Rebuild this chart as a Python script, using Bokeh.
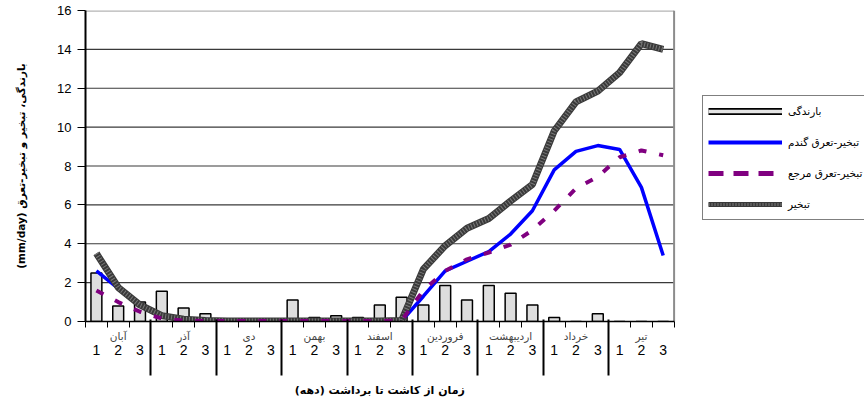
from bokeh.plotting import figure
from bokeh.models import (Range1d, FixedTicker, Legend, LegendItem, LinearAxis)
from bokeh.embed import file_html
from bokeh.resources import INLINE

# ---------------- data ----------------
months = ["آبان", "آذر", "دی", "بهمن", "اسفند", "فروردین", "اردیبهشت", "خرداد", "تیر"]
decades = ["1", "2", "3"]

rain = [2.5, 0.8, 1.0,
        1.55, 0.7, 0.4,
        0.05, 0.0, 0.1,
        1.1, 0.2, 0.3,
        0.2, 0.85, 1.25,
        0.85, 1.85, 1.1,
        1.85, 1.45, 0.85,
        0.2, 0.0, 0.4,
        0.0, 0.0, 0.0]

evap = [3.5, 1.75, 0.85,
        0.3, 0.12, 0.05,
        0.03, 0.02, 0.03,
        0.03, 0.03, 0.03,
        0.03, 0.03, 0.05,
        2.7, 3.9, 4.8,
        5.3, 6.2, 7.05,
        9.8, 11.3, 11.85,
        12.8, 14.3, 14.0]

et_wheat = [2.6, 1.7, 0.85,
            0.3, 0.15, 0.1,
            0.05, 0.02, 0.02,
            0.02, 0.02, 0.02,
            0.02, 0.02, 0.02,
            1.3, 2.6, 3.1,
            3.6, 4.5, 5.7,
            7.8, 8.75, 9.05,
            8.85, 6.9, 3.4]

et_ref = [1.6, 1.0, 0.5,
          0.15, 0.05, 0.03,
          0.02, 0.02, 0.02,
          0.02, 0.02, 0.02,
          0.02, 0.02, 0.05,
          1.6, 2.6, 3.2,
          3.55, 3.95, 4.7,
          5.7, 6.85, 7.45,
          8.45, 8.8, 8.55]

y_ticks = [0, 2, 4, 6, 8, 10, 12, 14, 16]

legend_labels = ["بارندگی", "تبخیر-تعرق گندم", "تبخیر-تعرق مرجع", "تبخیر"]
y_title = "(mm/day) بارندگی، تبخیر و تبخیر-تعرق"
x_title = "زمان از کاشت تا برداشت (دهه)"

# ---------------- layout ----------------
n = len(months) * len(decades)
x_c = [i + 0.5 for i in range(n)]
m_c = [3 * k + 1.5 for k in range(len(months))]
m_b = [3 * k for k in range(1, len(months))]
NAN = float("nan")

W, H = 864, 399
LEFT, TOP, BOTTOM = 85, 10, 78
unit = 21.8
x_end = (W - LEFT) / unit

p = figure(width=W, height=H, output_backend="svg", toolbar_location=None,
           x_range=Range1d(0, x_end), y_range=Range1d(0, 16),
           min_border_left=LEFT, min_border_top=TOP, min_border_bottom=BOTTOM,
           min_border_right=0)
p.outline_line_color = None
p.grid.visible = False
p.background_fill_color = "white"
p.border_fill_color = "white"

# x axis 1: axis line, decade ticks, month names
xa = p.xaxis[0]
xa.bounds = (0, n)
xa.ticker = FixedTicker(ticks=m_c, minor_ticks=list(range(n + 1)))
xa.major_label_overrides = {c: m for c, m in zip(m_c, months)}
xa.major_tick_out = 0
xa.major_tick_in = 0
xa.major_tick_line_color = None
xa.minor_tick_out = 6
xa.minor_tick_in = 0
xa.minor_tick_line_color = "black"
xa.minor_tick_line_width = 1
xa.axis_line_color = "black"
xa.axis_line_width = 1.5
xa.major_label_standoff = 2
xa.major_label_text_font = "DejaVu Sans"
xa.major_label_text_font_size = "10.5px"
xa.major_label_text_color = "#444444"

# x axis 2: decade numbers
xb = LinearAxis()
xb.bounds = (0, n)
xb.ticker = FixedTicker(ticks=x_c, minor_ticks=[])
xb.major_label_overrides = {c: decades[i % 3] for i, c in enumerate(x_c)}
xb.axis_line_color = None
xb.major_tick_line_color = None
xb.minor_tick_line_color = None
xb.major_tick_out = 0
xb.major_tick_in = 0
xb.minor_tick_out = 0
xb.minor_tick_in = 0
xb.major_label_standoff = 0
xb.major_label_text_font = "Liberation Sans"
xb.major_label_text_font_size = "14px"
xb.major_label_text_color = "black"
p.add_layout(xb, "below")

# x axis 3: month separators (minor ticks) and the axis title (one centred label)
xc = LinearAxis()
xc.bounds = (0, n)
xc.ticker = FixedTicker(ticks=[n / 2], minor_ticks=m_b)
xc.major_label_overrides = {n / 2: x_title}
xc.axis_line_color = None
xc.major_tick_line_color = None
xc.major_tick_in = 0
xc.major_tick_out = 0
xc.minor_tick_in = 38
xc.minor_tick_out = 18
xc.minor_tick_line_color = "black"
xc.minor_tick_line_width = 2
xc.major_label_standoff = 8
xc.major_label_text_font = "DejaVu Sans"
xc.major_label_text_font_style = "bold"
xc.major_label_text_font_size = "11px"
xc.major_label_text_color = "black"
p.add_layout(xc, "below")

# y axis
ya = p.yaxis[0]
ya.ticker = FixedTicker(ticks=y_ticks)
ya.major_tick_out = 8
ya.major_tick_in = 0
ya.major_tick_line_color = "black"
ya.minor_tick_line_color = None
ya.axis_line_color = "black"
ya.axis_line_width = 2
ya.major_label_standoff = 6
ya.major_label_text_font = "Liberation Sans"
ya.major_label_text_font_size = "13px"
ya.major_label_text_color = "black"
ya.axis_label = y_title
ya.axis_label_text_font = "DejaVu Sans"
ya.axis_label_text_font_style = "bold"
ya.axis_label_text_font_size = "10.5px"
ya.axis_label_text_color = "black"
ya.axis_label_standoff = 27

# grid lines and plot borders (limited to the plot area)
inner = y_ticks[1:-1]
p.segment(x0=[0] * len(inner), x1=[n] * len(inner), y0=inner, y1=inner,
          line_color="#3a3a3a", line_width=1.2)
p.segment(x0=[0], x1=[n], y0=[y_ticks[-1]], y1=[y_ticks[-1]],
          line_color="#b4b4b4", line_width=2.5)
p.segment(x0=[n], x1=[n], y0=[0], y1=[y_ticks[-1]],
          line_color="#8c8c8c", line_width=2)

# bars (rain)
p.vbar(x=x_c, top=rain, width=0.5, fill_color="#dedede",
       line_color="black", line_width=1.5)

# lines
p.line(x_c, et_wheat, line_color="#0000ff", line_width=3.5)
p.line(x_c, evap, line_color="#3a3a3a", line_width=7)
p.line(x_c, evap, line_color="#7a7a7a", line_width=5, line_dash="1 2")
p.line(x_c, et_ref, line_color="#800080", line_width=4, line_dash="8 13")

# legend-only renderers (no visible data)
nx = [NAN, NAN]
lb1 = p.line(nx, nx, line_color="black", line_width=7)
lb2 = p.line(nx, nx, line_color="#e4e4e4", line_width=3.5)
lw = p.line(nx, nx, line_color="#0000ff", line_width=4)
lr = p.line(nx, nx, line_color="#800080", line_width=5, line_dash="15 10")
le1 = p.line(nx, nx, line_color="#3a3a3a", line_width=5)
le2 = p.line(nx, nx, line_color="#7a7a7a", line_width=3, line_dash="1 2")

legend = Legend(items=[
    LegendItem(label=legend_labels[0], renderers=[lb1, lb2]),
    LegendItem(label=legend_labels[1], renderers=[lw]),
    LegendItem(label=legend_labels[2], renderers=[lr]),
    LegendItem(label=legend_labels[3], renderers=[le1, le2]),
], location=(617, 101))
legend.glyph_width = 74
legend.glyph_height = 20
legend.label_height = 20
legend.spacing = 11
legend.padding = 5
legend.margin = 0
legend.label_standoff = 6
legend.border_line_color = "black"
legend.border_line_width = 1
legend.background_fill_color = "white"
legend.background_fill_alpha = 1
legend.label_text_font = "DejaVu Sans"
legend.label_text_font_size = "10.5px"
legend.label_text_color = "black"
p.add_layout(legend)

open("out.html", "w").write(file_html(p, INLINE))
